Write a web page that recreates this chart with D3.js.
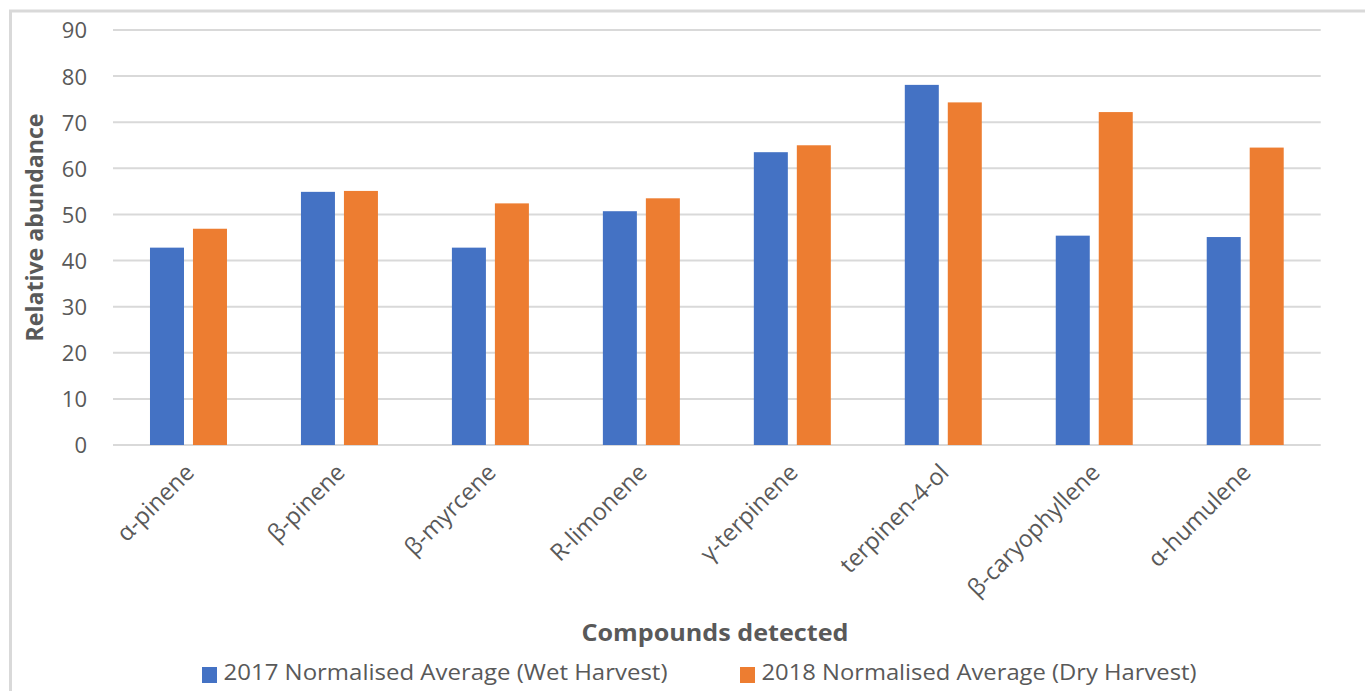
<!DOCTYPE html>
<html>
<head>
<meta charset="utf-8">
<script src="https://cdn.jsdelivr.net/npm/d3@7"></script>
<style>
  html, body { margin: 0; padding: 0; background: #fff; }
  svg { display: block; }
</style>
</head>
<body>
<svg id="chart" width="1365" height="691"></svg>
<script>
const categories = ["α-pinene", "β-pinene", "β-myrcene", "R-limonene", "γ-terpinene", "terpinen-4-ol", "β-caryophyllene", "α-humulene"];
const seriesNames = ["2017 Normalised Average (Wet Harvest)", "2018 Normalised Average (Dry Harvest)"];
const values2017 = [42.8, 54.9, 42.8, 50.7, 63.5, 78.1, 45.4, 45.1];
const values2018 = [46.9, 55.1, 52.4, 53.5, 65.0, 74.3, 72.2, 64.5];
const yTicks = [0, 10, 20, 30, 40, 50, 60, 70, 80, 90];
const colors = ["#4472C4", "#ED7D31"];

(function () {
const svg = d3.select("#chart");
const textColor = "#595959";
const tickFont = "'Open Sans', 'Noto Sans', sans-serif";

// frame
svg.append("rect")
  .attr("x", 10.5).attr("y", 11)
  .attr("width", 1400).attr("height", 800)
  .attr("fill", "none").attr("stroke", "#d9d9d9").attr("stroke-width", 3);

const pLeft = 113, pRight = 1320.7, pTop = 30, pBottom = 445;

const x0 = d3.scaleBand().domain(categories).range([pLeft, pRight]).paddingInner(0.49).paddingOuter(0.245);
const x1 = d3.scaleBand().domain([0, 1]).range([0, x0.bandwidth()]).paddingInner(0.209).paddingOuter(0);
const y = d3.scaleLinear().domain([0, 90]).range([pBottom, pTop]);

// gridlines
svg.append("g").selectAll("line").data(yTicks).join("line")
  .attr("x1", pLeft).attr("x2", pRight)
  .attr("y1", d => y(d)).attr("y2", d => y(d))
  .attr("stroke", "#d9d9d9").attr("stroke-width", 2);

// y axis labels
const yAxis = d3.axisLeft(y).tickValues(yTicks).tickSize(0).tickPadding(0);
const yg = svg.append("g").attr("transform", `translate(87,0)`).call(yAxis);
yg.select(".domain").remove();
yg.selectAll("text")
  .attr("font-family", tickFont).attr("font-size", 22)
  .attr("fill", textColor).attr("dy", "0.36em");

// bars
const data = categories.map((c, i) => ({ c, v: [values2017[i], values2018[i]] }));
const groups = svg.append("g").selectAll("g").data(data).join("g")
  .attr("transform", d => `translate(${x0(d.c)},0)`);
groups.selectAll("rect").data(d => d.v.map((v, k) => ({ v, k }))).join("rect")
  .attr("x", d => x1(d.k))
  .attr("width", x1.bandwidth())
  .attr("y", d => y(d.v))
  .attr("height", d => y(0) - y(d.v))
  .attr("fill", d => colors[d.k]);

// x axis labels
const xAxis = d3.axisBottom(x0).tickSize(0).tickPadding(0);
const xg = svg.append("g").attr("transform", `translate(0,${pBottom})`).call(xAxis);
xg.select(".domain").remove();
xg.selectAll(".tick text")
  .attr("font-family", tickFont).attr("font-size", 23.5)
  .attr("fill", textColor)
  .attr("text-anchor", "end")
  .attr("y", 0).attr("dy", 0)
  .attr("transform", "translate(7,29) rotate(-45)");

// axis titles
svg.append("text")
  .attr("transform", "translate(43,227.5) rotate(-90)")
  .attr("text-anchor", "middle")
  .attr("font-family", tickFont).attr("font-weight", "bold").attr("font-size", 24)
  .attr("fill", textColor)
  .attr("textLength", 228).attr("lengthAdjust", "spacingAndGlyphs")
  .text("Relative abundance");

svg.append("text")
  .attr("x", 715).attr("y", 640.5)
  .attr("text-anchor", "middle")
  .attr("font-family", tickFont).attr("font-weight", "bold").attr("font-size", 24)
  .attr("fill", textColor)
  .attr("textLength", 267).attr("lengthAdjust", "spacingAndGlyphs")
  .text("Compounds detected");

// legend
const legendItems = [
  { name: seriesNames[0], color: colors[0], sx: 202, tx: 223.5, tw: 444 },
  { name: seriesNames[1], color: colors[1], sx: 740, tx: 761.5, tw: 435 }
];
const lg = svg.append("g").selectAll("g").data(legendItems).join("g");
lg.append("rect")
  .attr("x", d => d.sx).attr("y", 667).attr("width", 15).attr("height", 16)
  .attr("fill", d => d.color);
lg.append("text")
  .attr("x", d => d.tx).attr("y", 679.5)
  .attr("font-family", tickFont).attr("font-size", 21.5)
  .attr("fill", textColor)
  .attr("textLength", d => d.tw).attr("lengthAdjust", "spacingAndGlyphs")
  .text(d => d.name);
})();
</script>
</body>
</html>
